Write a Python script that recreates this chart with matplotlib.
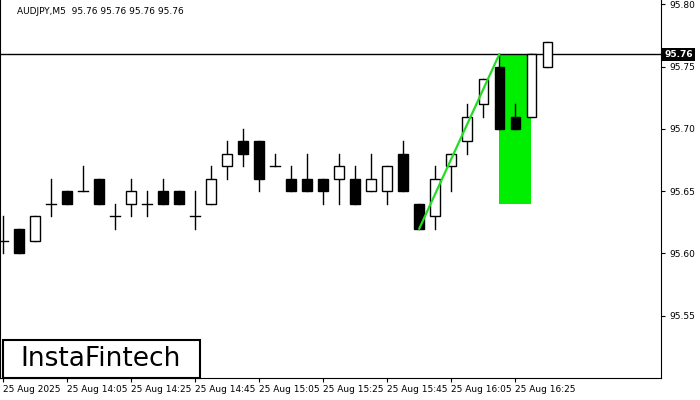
import matplotlib
matplotlib.use("Agg")
import matplotlib.pyplot as plt
from matplotlib.patches import Rectangle

opens  = [95.61,95.62,95.61,95.64,95.65,95.65,95.66,95.63,95.64,95.64,95.65,95.65,95.63,95.64,95.67,95.69,95.69,95.67,
          95.66,95.66,95.66,95.66,95.66,95.65,95.65,95.68,95.64,95.63,95.67,95.69,95.72,95.75,95.71,95.71,95.75]
highs  = [95.63,95.62,95.63,95.66,95.65,95.67,95.66,95.64,95.66,95.65,95.66,95.65,95.65,95.67,95.69,95.70,95.69,95.68,
          95.67,95.68,95.66,95.68,95.67,95.68,95.67,95.69,95.64,95.67,95.68,95.72,95.74,95.76,95.72,95.76,95.77]
lows   = [95.60,95.60,95.61,95.63,95.64,95.65,95.64,95.62,95.63,95.63,95.64,95.64,95.62,95.64,95.66,95.67,95.65,95.67,
          95.65,95.65,95.64,95.64,95.64,95.65,95.64,95.65,95.62,95.62,95.65,95.68,95.71,95.70,95.70,95.71,95.75]
closes = [95.61,95.60,95.63,95.64,95.64,95.65,95.64,95.63,95.65,95.64,95.64,95.64,95.63,95.66,95.68,95.68,95.66,95.67,
          95.65,95.65,95.65,95.67,95.64,95.66,95.67,95.65,95.62,95.66,95.68,95.71,95.74,95.70,95.70,95.76,95.77]
tick_idx = [0,4,8,12,16,20,24,28,32]
tick_labels = ["25 Aug 2025","25 Aug 14:05","25 Aug 14:25","25 Aug 14:45","25 Aug 15:05",
               "25 Aug 15:25","25 Aug 15:45","25 Aug 16:05","25 Aug 16:25"]
yticks = [95.55,95.60,95.65,95.70,95.75,95.80]
last_price = 95.76
line_start = (26, 95.62)
line_end = (31, 95.76)
rect_x = (31, 33)
rect_y = (95.64, 95.76)

fig = plt.figure(figsize=(7,4), dpi=100)
ax = fig.add_axes([0.0, 0.055, 661/700, 0.945])
ax.set_xlim(-0.19, 41.1)
ax.set_ylim(95.50, 95.8036)
ax.add_patch(Rectangle((rect_x[0], rect_y[0]), rect_x[1]-rect_x[0], rect_y[1]-rect_y[0],
                       facecolor="#00ee00", edgecolor="none", zorder=1))
ax.axhline(last_price, color="black", lw=1, zorder=2)
w = 0.6
for i,(o,h,l,c) in enumerate(zip(opens,highs,lows,closes)):
    ax.plot([i,i],[l,h], color="black", lw=1, zorder=3)
    if o == c:
        ax.plot([i-w/2,i+w/2],[o,o], color="black", lw=1, zorder=4)
    else:
        fc = "white" if c > o else "black"
        ax.add_patch(Rectangle((i-w/2, min(o,c)), w, abs(c-o), facecolor=fc,
                               edgecolor="black", lw=1, zorder=4))
ax.plot([line_start[0], line_end[0]], [line_start[1], line_end[1]], color="#22dd22", lw=1.6, zorder=5)

ax.yaxis.tick_right()
ax.set_yticks(yticks)
ax.set_yticklabels([f"{v:.2f}" for v in yticks], fontsize=6.5)
ax.set_xticks(tick_idx)
ax.set_xticklabels(tick_labels, fontsize=6.5, ha="left")
ax.tick_params(axis="x", length=3, pad=2)
ax.tick_params(axis="y", length=3, pad=3)
ax.spines["top"].set_visible(False)
ax.text(41.3, last_price, "95.76", fontsize=6.5, fontweight="bold", color="white",
        va="center", ha="left", bbox=dict(facecolor="black", edgecolor="none", pad=1.5), clip_on=False)
fig.text(17/700, 1-11/400, "AUDJPY,M5  95.76 95.76 95.76 95.76", fontsize=6.5, va="center")
fig.patches.append(Rectangle((3/700, 1-378/400), 197/700, 38/400, transform=fig.transFigure,
                             facecolor="white", edgecolor="black", lw=1.5, zorder=10))
fig.text(101/700, 1-359/400, "InstaFintech", fontsize=19, fontweight="medium", ha="center", va="center", zorder=11)
fig.savefig("out.png", dpi=100)
